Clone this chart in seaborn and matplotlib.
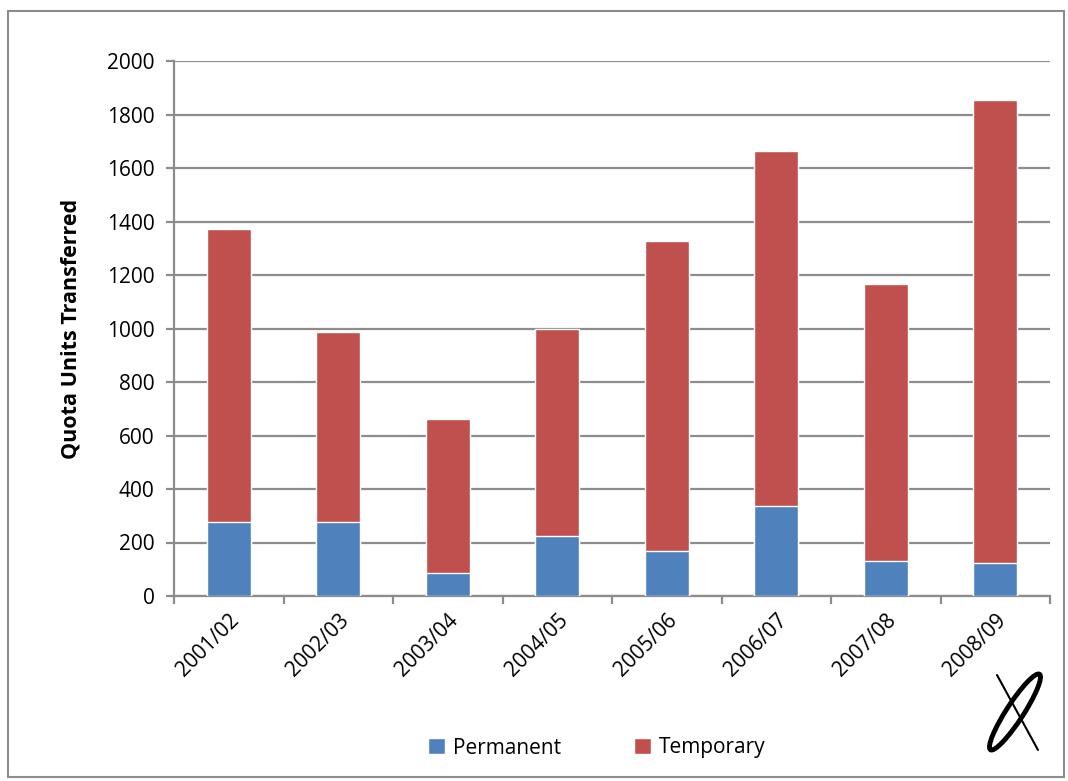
import numpy as np
import pandas as pd
import matplotlib
matplotlib.use("Agg")
import matplotlib.pyplot as plt
from matplotlib.patches import Rectangle, Ellipse, Patch
import seaborn as sns

seasons = ["2001/02", "2002/03", "2003/04", "2004/05", "2005/06", "2006/07", "2007/08", "2008/09"]
permanent = [278, 278, 87, 226, 167, 337, 131, 125]
temporary = [1094, 710, 575, 771, 1161, 1325, 1035, 1730]

blue = "#4F81BD"
red = "#C0504D"
grid_col = "#8C8C8C"

sns.set_theme(style="white")
plt.rcParams['font.family'] = ['Open Sans', 'DejaVu Sans']
plt.rcParams['text.color'] = 'black'
plt.rcParams['xtick.color'] = 'black'
plt.rcParams['ytick.color'] = 'black'
plt.rcParams['axes.labelcolor'] = 'black'

df = pd.DataFrame({'season': seasons, 'Permanent': permanent, 'Temporary': temporary})
df['total'] = df['Permanent'] + df['Temporary']

fig = plt.figure(figsize=(10.68, 7.81), dpi=100)
ax = fig.add_axes([174/1068, 1 - 596/781, (1050-174)/1068, (596-61)/781])

# stacked: draw totals in red, then permanent in blue over them
sns.barplot(data=df, x='season', y='total', color=red, width=0.4, saturation=1, ax=ax, zorder=3)
sns.barplot(data=df, x='season', y='Permanent', color=blue, width=0.4, saturation=1, ax=ax, zorder=4)

ax.set_ylim(0, 2000)
ax.set_xlim(-0.5, len(seasons) - 0.5)
ax.set_yticks(np.arange(0, 2001, 200))
ax.yaxis.grid(True, color=grid_col, linewidth=1.6, zorder=0)
ax.set_axisbelow(True)

for s in ['top', 'right']:
    ax.spines[s].set_visible(False)
for s in ['left', 'bottom']:
    ax.spines[s].set_color(grid_col)
    ax.spines[s].set_linewidth(1.6)

ax.tick_params(axis='y', which='major', length=6, width=1.6, color=grid_col, labelsize=15, pad=8, left=True)
ax.set_xticks(range(len(seasons)))
ax.set_xticklabels(seasons, rotation=45, ha='right', rotation_mode='anchor', fontsize=15)
ax.tick_params(axis='x', which='major', length=0, pad=10)
ax.set_xticks(np.arange(-0.5, len(seasons), 1), minor=True)
ax.tick_params(axis='x', which='minor', length=6, width=1.6, color=grid_col, bottom=True)

ax.set_xlabel('')
ax.set_ylabel('Quota Units Transferred', fontsize=15.5, fontweight='bold', labelpad=18)

handles = [Patch(facecolor=blue, label='Permanent'), Patch(facecolor=red, label='Temporary')]
fig.legend(handles=handles, loc='center', bbox_to_anchor=(597/1068, 1 - 748/781), ncol=2,
           frameon=False, fontsize=15, handlelength=0.8, handleheight=0.8, handletextpad=0.4,
           columnspacing=3.5)

# outer chart border
fig.patches.append(Rectangle((8/1068, 4/781), 1056/1068, 766/781, transform=fig.transFigure,
                             fill=False, edgecolor=grid_col, linewidth=1.5))

# rough logo mark in the bottom right (inches, so the ellipse keeps its shape)
fig.patches.append(Ellipse((10.15, (781 - 712) / 100), 0.17, 0.9, angle=-33,
                           transform=fig.dpi_scale_trans, fill=False, edgecolor='black', linewidth=3.5))
fig.lines.append(plt.Line2D([9.97, 10.38], [(781 - 675) / 100, (781 - 750) / 100],
                            transform=fig.dpi_scale_trans, color='black', linewidth=1.5))

fig.savefig('out.png', dpi=100)
